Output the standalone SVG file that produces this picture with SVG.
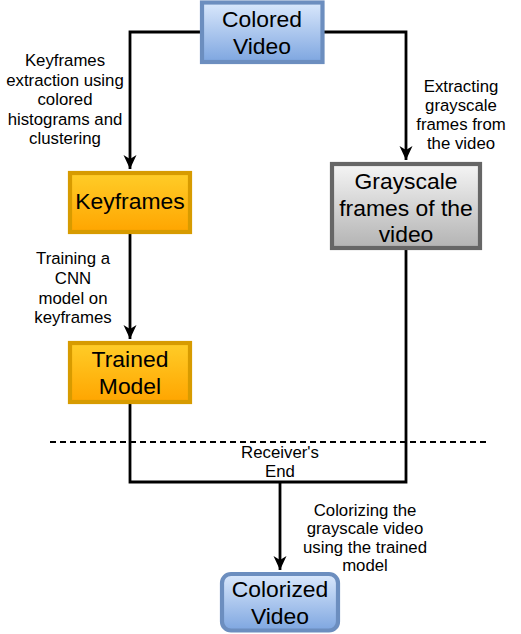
<svg xmlns="http://www.w3.org/2000/svg" width="521" height="634" viewBox="0 0 521 634">
<defs>
<linearGradient id="gBlue" x1="0" y1="0" x2="0" y2="1"><stop offset="0" stop-color="#dae8fc"/><stop offset="1" stop-color="#7ea6e0"/></linearGradient>
<linearGradient id="gOrange" x1="0" y1="0" x2="0" y2="1"><stop offset="0" stop-color="#ffcd28"/><stop offset="1" stop-color="#ffa500"/></linearGradient>
<linearGradient id="gGray" x1="0" y1="0" x2="0" y2="1"><stop offset="0" stop-color="#f5f5f5"/><stop offset="1" stop-color="#b3b3b3"/></linearGradient>
<marker id="arr" markerUnits="userSpaceOnUse" markerWidth="16" markerHeight="16" viewBox="-15 -8 16 16" refX="0" refY="0" orient="auto">
<path d="M0,0 L-14,-6.5 L-10,0 L-14,6.5 Z" fill="#000"/>
</marker>
<style>
.node text{font-family:"Liberation Sans",Arial,sans-serif;font-size:22.9px;fill:#000;text-anchor:middle}
.lbl{font-family:"Liberation Sans",Arial,sans-serif;font-size:16.8px;fill:#000;text-anchor:middle}
.edge{fill:none;stroke:#000;stroke-width:2.8}
.blue{fill:url(#gBlue);stroke:#6c8ebf;stroke-width:4.2}
.orange{fill:url(#gOrange);stroke:#d79b00;stroke-width:4.2}
.gray{fill:url(#gGray);stroke:#666666;stroke-width:4.2}
</style>
</defs>
<rect width="521" height="634" fill="#fff"/>
<g id="connectors">
<path class="edge" d="M202,32 H130 V169" marker-end="url(#arr)"/>
<path class="edge" d="M322,32 H406 V160" marker-end="url(#arr)"/>
<path class="edge" d="M130,233 V339" marker-end="url(#arr)"/>
<path class="edge" d="M130,403 V482 H406 V249"/>
<path class="edge" d="M280,482 V570" marker-end="url(#arr)"/>
<line x1="50" y1="442" x2="490" y2="442" stroke="#000" stroke-width="2" stroke-dasharray="6 4"/>
</g>
<g id="labels">
<text class="lbl"><tspan x="65" y="66">Keyframes</tspan><tspan x="65" y="85.5">extraction using</tspan><tspan x="65" y="105">colored</tspan><tspan x="65" y="124.5">histograms and</tspan><tspan x="65" y="144">clustering</tspan></text>
<text class="lbl"><tspan x="461" y="92">Extracting</tspan><tspan x="461" y="111">grayscale</tspan><tspan x="461" y="130">frames from</tspan><tspan x="461" y="149">the video</tspan></text>
<text class="lbl"><tspan x="73" y="264">Training a</tspan><tspan x="73" y="284">CNN</tspan><tspan x="73" y="303.5">model on</tspan><tspan x="73" y="323">keyframes</tspan></text>
<text class="lbl"><tspan x="280" y="457.5">Receiver's</tspan><tspan x="280" y="476.5">End</tspan></text>
<text class="lbl"><tspan x="365" y="515.5">Colorizing the</tspan><tspan x="365" y="534">grayscale video</tspan><tspan x="365" y="552.5">using the trained</tspan><tspan x="365" y="571">model</tspan></text>
</g>
<g id="colored-video" class="node">
<rect class="blue" x="202" y="2.5" width="120.5" height="59.5"/>
<text><tspan x="262" y="27">Colored</tspan><tspan x="262" y="53.5">Video</tspan></text>
</g>
<g id="keyframes" class="node">
<rect class="orange" x="70" y="173" width="120" height="59"/>
<text x="130" y="209">Keyframes</text>
</g>
<g id="grayscale" class="node">
<rect class="gray" x="332" y="164" width="148" height="84"/>
<text><tspan x="406" y="189">Grayscale</tspan><tspan x="406" y="215.5">frames of the</tspan><tspan x="406" y="242">video</tspan></text>
</g>
<g id="trained-model" class="node">
<rect class="orange" x="70" y="343" width="120" height="59"/>
<text><tspan x="130" y="367">Trained</tspan><tspan x="130" y="393.5">Model</tspan></text>
</g>
<g id="colorized-video" class="node">
<rect class="blue" x="222" y="574" width="116" height="56.5" rx="9"/>
<text><tspan x="280" y="597">Colorized</tspan><tspan x="280" y="623.5">Video</tspan></text>
</g>
</svg>
